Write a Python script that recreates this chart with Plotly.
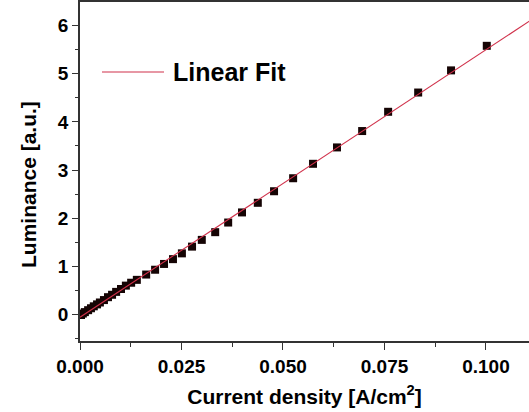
import numpy as np
import plotly.graph_objects as go

current_density = [0.00025, 0.0007, 0.0012, 0.0020, 0.0027, 0.0034, 0.0042, 0.0049,
                   0.0059, 0.0069, 0.0079, 0.0089, 0.0101, 0.0113, 0.0126, 0.0140,
                   0.0163, 0.0185, 0.0207, 0.0229, 0.0251, 0.0276, 0.0300, 0.0333,
                   0.0365, 0.0399, 0.0438, 0.0478, 0.0525, 0.0574, 0.0633, 0.0695,
                   0.0759, 0.0833, 0.0914, 0.1002]
luminance = [-0.01, 0.02, 0.05, 0.09, 0.13, 0.17, 0.21, 0.25, 0.30, 0.36, 0.41, 0.47,
             0.53, 0.60, 0.66, 0.72, 0.83, 0.93, 1.05, 1.15, 1.27, 1.41, 1.55, 1.71,
             1.91, 2.12, 2.32, 2.56, 2.83, 3.13, 3.47, 3.81, 4.21, 4.61, 5.07, 5.58]
fit_range = [0.0, 0.112]
x_ticks = [0.0, 0.025, 0.05, 0.075, 0.1]
x_tick_labels = ["0.000", "0.025", "0.050", "0.075", "0.100"]
y_ticks = [0, 1, 2, 3, 4, 5, 6]

slope, intercept = np.polyfit(current_density, luminance, 1)
fit_x = np.array(fit_range)
fit_y = slope * fit_x + intercept

FONT = "Liberation Sans, Arial, sans-serif"
AX = "#333333"

fig = go.Figure()
fig.add_trace(go.Scatter(
    x=current_density, y=luminance, mode="markers",
    marker=dict(symbol="square", size=8, color="#150404"),
    showlegend=False))
fig.add_trace(go.Scatter(
    x=fit_x, y=fit_y, mode="lines",
    line=dict(color="#d0304a", width=1.1),
    name="Linear Fit", showlegend=False))

# legend (drawn manually to match sample length)
fig.add_shape(type="line", xref="paper", yref="paper",
              x0=(102 - 80) / 449, x1=(164 - 80) / 449,
              y0=(341 - 72) / 339, y1=(341 - 72) / 339,
              line=dict(color="#d0304a", width=1.1))
fig.add_annotation(xref="paper", yref="paper", x=(171 - 80) / 449, y=(341 - 72) / 339,
                   text="<b>Linear Fit</b>", showarrow=False, xanchor="left", yanchor="middle",
                   font=dict(family=FONT, size=25, color="black"))
fig.add_annotation(xref="paper", yref="paper", x=(29 - 80) / 449, y=(341 - 185) / 339,
                   text="<b>Luminance [a.u.]</b>", showarrow=False, textangle=-90,
                   xanchor="center", yanchor="middle",
                   font=dict(family=FONT, size=21, color="black"))

fig.update_layout(
    width=529, height=412,
    margin=dict(l=80, r=0, t=2, b=71),
    plot_bgcolor="white", paper_bgcolor="white",
    font=dict(family=FONT, size=19, color="black"),
    showlegend=False,
)
fig.update_xaxes(
    range=[0, 0.1106], tickvals=x_ticks, ticktext=[f"<b>{t}</b>" for t in x_tick_labels],
    showgrid=False, zeroline=False, showline=True, linecolor=AX, linewidth=1.5,
    mirror=True, ticks="outside", ticklen=7, tickwidth=1.3, tickcolor=AX,
    minor=dict(tickvals=[0.0125, 0.0375, 0.0625, 0.0875], ticks="outside", ticklen=4,
               tickcolor=AX, tickwidth=1.3),
    tickfont=dict(family=FONT, size=19, color="black"),
    title=dict(text="<b>Current density [A/cm<sup>2</sup>]</b>", standoff=14,
               font=dict(family=FONT, size=21, color="black")),
)
fig.update_yaxes(
    range=[-0.55, 6.49], tickvals=y_ticks, ticktext=[f"<b>{t}</b>" for t in y_ticks],
    showgrid=False, zeroline=False, showline=True, linecolor=AX, linewidth=1.5,
    mirror=False, ticks="outside", ticklen=6, tickwidth=1.3, tickcolor=AX,
    minor=dict(tickvals=[-0.5, 0.5, 1.5, 2.5, 3.5, 4.5, 5.5], ticks="outside", ticklen=3,
               tickcolor=AX, tickwidth=1.3),
    tickfont=dict(family=FONT, size=19, color="black"),
)

fig.write_html("out.html")
